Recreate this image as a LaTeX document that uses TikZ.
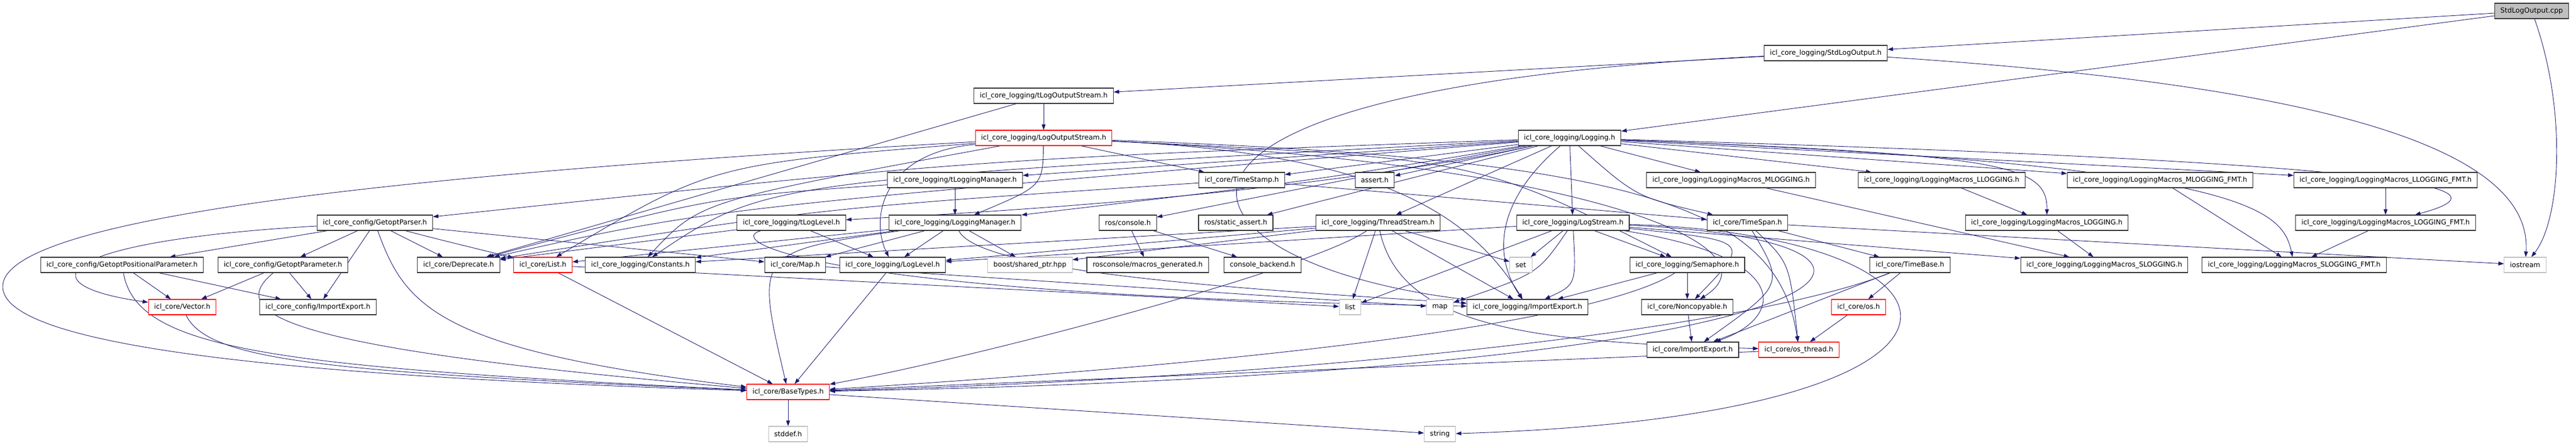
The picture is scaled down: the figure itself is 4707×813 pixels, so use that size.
\documentclass[tikz,border=0pt]{standalone}
\usepackage{fontspec}
\newfontfamily\hdrfont{DejaVu Sans}
\usetikzlibrary{arrows.meta,backgrounds}
\definecolor{edgeblue}{HTML}{191970}
\definecolor{sysgray}{HTML}{BFBFBF}
\definecolor{boxline}{HTML}{303030}
\begin{document}
\begin{tikzpicture}[x=1pt,y=-1pt,
    hdr/.style={draw=boxline, line width=1.1pt, fill=white, minimum height=28pt,
      inner xsep=10.5pt, inner ysep=0pt, font=\hdrfont\fontsize{12.6}{15}\selectfont},
    hdrred/.style={hdr, draw=red},
    hdrsys/.style={hdr, draw=sysgray},
    hdrroot/.style={hdr, fill=sysgray},
    dep/.style={draw=edgeblue, line width=0.9pt, -{Triangle[length=10pt,width=7pt]}}]
\useasboundingbox (0,0) rectangle (4707,813);
\node[hdrroot] (cpp) at (4626,20) {StdLogOutput.cpp};
\node[hdr] (stdlogh) at (3336,97) {icl\_core\_logging/StdLogOutput.h};
\node[hdr] (tlogout) at (1907,175) {icl\_core\_logging/tLogOutputStream.h};
\node[hdrred] (logout) at (1907,252) {icl\_core\_logging/LogOutputStream.h};
\node[hdr] (logging) at (2868,252) {icl\_core\_logging/Logging.h};
\node[hdr] (tlogmgr) at (1745,329) {icl\_core\_logging/tLoggingManager.h};
\node[hdr] (timestamp) at (2269,329) {icl\_core/TimeStamp.h};
\node[hdr] (assert) at (2512,329) {assert.h};
\node[hdr] (mlog) at (3163,329) {icl\_core\_logging/LoggingMacros\_MLOGGING.h};
\node[hdr] (llog) at (3548,329) {icl\_core\_logging/LoggingMacros\_LLOGGING.h};
\node[hdr] (mlogfmt) at (3947,329) {icl\_core\_logging/LoggingMacros\_MLOGGING\_FMT.h};
\node[hdr] (llogfmt) at (4359,329) {icl\_core\_logging/LoggingMacros\_LLOGGING\_FMT.h};
\node[hdr] (getopt) at (685,407) {icl\_core\_config/GetoptParser.h};
\node[hdr] (tloglevel) at (1446,407) {icl\_core\_logging/tLogLevel.h};
\node[hdr] (logmgr) at (1745,407) {icl\_core\_logging/LoggingManager.h};
\node[hdr] (console) at (2061,407) {ros/console.h};
\node[hdr] (sassert) at (2258,407) {ros/static\_assert.h};
\node[hdr] (thread) at (2518,407) {icl\_core\_logging/ThreadStream.h};
\node[hdr] (logstream) at (2874,407) {icl\_core\_logging/LogStream.h};
\node[hdr] (timespan) at (3193,407) {icl\_core/TimeSpan.h};
\node[hdr] (loggingm) at (3740,407) {icl\_core\_logging/LoggingMacros\_LOGGING.h};
\node[hdr] (loggingfmt) at (4359,407) {icl\_core\_logging/LoggingMacros\_LOGGING\_FMT.h};
\node[hdr] (posparam) at (223,484) {icl\_core\_config/GetoptPositionalParameter.h};
\node[hdr] (param) at (517,484) {icl\_core\_config/GetoptParameter.h};
\node[hdr] (deprecate) at (838,484) {icl\_core/Deprecate.h};
\node[hdrred] (list) at (992,484) {icl\_core/List.h};
\node[hdr] (constants) at (1170,484) {icl\_core\_logging/Constants.h};
\node[hdr] (map) at (1453,484) {icl\_core/Map.h};
\node[hdr] (loglevel) at (1631,484) {icl\_core\_logging/LogLevel.h};
\node[hdrsys] (shptr) at (1882,484) {boost/shared\_ptr.hpp};
\node[hdr] (macrosgen) at (2097,484) {rosconsole/macros\_generated.h};
\node[hdr] (backend) at (2307,484) {console\_backend.h};
\node[hdrsys] (set) at (2779,484) {set};
\node[hdr] (semaphore) at (3083,484) {icl\_core\_logging/Semaphore.h};
\node[hdr] (timebase) at (3490,484) {icl\_core/TimeBase.h};
\node[hdr] (slog) at (3845,484) {icl\_core\_logging/LoggingMacros\_SLOGGING.h};
\node[hdr] (slogfmt) at (4192,484) {icl\_core\_logging/LoggingMacros\_SLOGGING\_FMT.h};
\node[hdrsys] (iostream) at (4614,484) {iostream};
\node[hdrred] (vector) at (333,561) {icl\_core/Vector.h};
\node[hdr] (cfgie) at (581,561) {icl\_core\_config/ImportExport.h};
\node[hdrsys] (stdlist) at (2467,561) {list};
\node[hdrsys] (stdmap) at (2631,561) {map};
\node[hdr] (logie) at (2791,561) {icl\_core\_logging/ImportExport.h};
\node[hdr] (noncopy) at (3083,561) {icl\_core/Noncopyable.h};
\node[hdrred] (os) at (3396,561) {icl\_core/os.h};
\node[hdr] (coreie) at (3093,639) {icl\_core/ImportExport.h};
\node[hdrred] (osthread) at (3287,639) {icl\_core/os\_thread.h};
\node[hdrred] (basetypes) at (1440,716) {icl\_core/BaseTypes.h};
\node[hdrsys] (stddef) at (1440,793) {stddef.h};
\node[hdrsys] (string) at (2631,793) {string};
\begin{scope}[on background layer]
\draw[dep] (cpp) -- (stdlogh);
\draw[dep] (cpp) -- (logging);
\draw[dep] (cpp) .. controls (4690,200) and (4680,400) .. (iostream);
\draw[dep] (stdlogh) -- (tlogout);
\draw[dep] (stdlogh) .. controls (4150,150) and (4630,250) .. (iostream);
\draw[dep] (stdlogh) .. controls (1950,165) and (2130,480) .. (logie);
\draw[dep] (tlogout) -- (logout);
\draw[dep] (tlogout) -- (deprecate);
\draw[dep] (logout) .. controls (1905,340) .. (logmgr);
\draw[dep] (logout) -- (timestamp);
\draw[dep] (logout) .. controls (700,320) and (0,400) .. (5,525) .. controls (10,640) and (600,690) .. (basetypes);
\draw[dep] (logout) .. controls (1300,300) .. (list);
\draw[dep] (logout) .. controls (1280,367) .. (constants);
\draw[dep] (logout) .. controls (1610,280) and (1590,400) .. (loglevel);
\draw[dep] (logout) .. controls (2500,280) and (2680,380) .. (logie);
\draw[dep] (logout) .. controls (2700,290) .. (semaphore);
\draw[dep] (logout) .. controls (2900,300) and (3260,450) .. (noncopy);
\draw[dep] (logout) .. controls (3000,290) and (3250,380) .. (osthread);
\draw[dep] (logging) .. controls (1800,290) .. (getopt);
\draw[dep] (logging) -- (tlogmgr);
\draw[dep] (logging) .. controls (2400,330) .. (logmgr);
\draw[dep] (logging) -- (timestamp);
\draw[dep] (logging) -- (assert);
\draw[dep] (logging) .. controls (2450,330) .. (console);
\draw[dep] (logging) -- (sassert);
\draw[dep] (logging) -- (thread);
\draw[dep] (logging) -- (logstream);
\draw[dep] (logging) .. controls (2990,360) .. (timespan);
\draw[dep] (logging) -- (mlog);
\draw[dep] (logging) -- (llog);
\draw[dep] (logging) -- (mlogfmt);
\draw[dep] (logging) -- (llogfmt);
\draw[dep] (logging) .. controls (3659,283) and (3741,300) .. (loggingm);
\draw[dep] (logging) .. controls (4535,300) and (4570,350) .. (loggingfmt);
\draw[dep] (logging) .. controls (4100,300) and (4170,380) .. (slogfmt);
\draw[dep] (logging) .. controls (2355,362) and (1700,393) .. (tloglevel);
\draw[dep] (logging) .. controls (1300,380) .. (deprecate);
\draw[dep] (logging) .. controls (1400,330) .. (constants);
\draw[dep] (logging) .. controls (2730,370) and (2730,470) .. (logie);
\draw[dep] (tlogmgr) -- (logmgr);
\draw[dep] (tlogmgr) .. controls (1300,360) .. (deprecate);
\draw[dep] (timestamp) -- (timespan);
\draw[dep] (timestamp) .. controls (1500,380) .. (deprecate);
\draw[dep] (tloglevel) -- (loglevel);
\draw[dep] (tloglevel) -- (deprecate);
\draw[dep] (tloglevel) .. controls (1320,440) and (1500,540) .. (logie);
\draw[dep] (logmgr) -- (loglevel);
\draw[dep] (logmgr) -- (shptr);
\draw[dep] (logmgr) .. controls (1380,460) .. (basetypes);
\draw[dep] (logmgr) -- (map);
\draw[dep] (logmgr) -- (list);
\draw[dep] (logmgr) -- (constants);
\draw[dep] (logmgr) .. controls (1790,500) and (2300,530) .. (logie);
\draw[dep] (console) -- (macrosgen);
\draw[dep] (console) -- (backend);
\draw[dep] (thread) .. controls (2400,490) and (1800,650) .. (basetypes);
\draw[dep] (thread) -- (stdlist);
\draw[dep] (thread) .. controls (2560,600) and (2800,625) .. (osthread);
\draw[dep] (thread) -- (logie);
\draw[dep] (thread) -- (set);
\draw[dep] (thread) -- (loglevel);
\draw[dep] (thread) -- (constants);
\draw[dep] (thread) -- (shptr);
\draw[dep] (logstream) -- (set);
\draw[dep] (logstream) -- (stdlist);
\draw[dep] (logstream) .. controls (2810,500) .. (stdmap);
\draw[dep] (logstream) .. controls (2880,520) .. (logie);
\draw[dep] (logstream) -- (semaphore);
\draw[dep] (logstream) -- (loglevel);
\draw[dep] (logstream) .. controls (3200,440) .. (noncopy);
\draw[dep] (logstream) .. controls (3280,470) and (3260,580) .. (coreie);
\draw[dep] (logstream) .. controls (3650,430) and (3720,760) .. (string);
\draw[dep] (logstream) .. controls (3620,440) and (3450,680) .. (basetypes);
\draw[dep] (logstream) -- (slog);
\draw[dep] (timespan) -- (iostream);
\draw[dep] (timespan) -- (timebase);
\draw[dep] (timespan) .. controls (3270,480) .. (osthread);
\draw[dep] (timespan) .. controls (3260,520) .. (coreie);
\draw[dep] (semaphore) -- (noncopy);
\draw[dep] (semaphore) -- (logie);
\draw[dep] (semaphore) .. controls (2950,570) and (2500,650) .. (basetypes);
\draw[dep] (noncopy) -- (coreie);
\draw[dep] (timebase) -- (os);
\draw[dep] (timebase) -- (coreie);
\draw[dep] (timebase) .. controls (3200,600) and (2400,690) .. (basetypes);
\draw[dep] (os) -- (osthread);
\draw[dep] (osthread) -- (basetypes);
\draw[dep] (llog) -- (loggingm);
\draw[dep] (mlog) -- (slog);
\draw[dep] (loggingm) -- (slog);
\draw[dep] (mlogfmt) -- (slogfmt);
\draw[dep] (llogfmt) -- (loggingfmt);
\draw[dep] (loggingfmt) -- (slogfmt);
\draw[dep] (getopt) -- (posparam);
\draw[dep] (getopt) -- (param);
\draw[dep] (getopt) -- (cfgie);
\draw[dep] (getopt) .. controls (100,440) and (40,520) .. (vector);
\draw[dep] (getopt) .. controls (740,560) and (800,640) .. (basetypes);
\draw[dep] (getopt) -- (deprecate);
\draw[dep] (getopt) .. controls (800,437) .. (list);
\draw[dep] (getopt) -- (map);
\draw[dep] (posparam) -- (vector);
\draw[dep] (posparam) -- (cfgie);
\draw[dep] (posparam) .. controls (250,640) and (500,670) .. (basetypes);
\draw[dep] (param) -- (vector);
\draw[dep] (param) -- (cfgie);
\draw[dep] (param) .. controls (400,580) and (560,640) .. (basetypes);
\draw[dep] (vector) .. controls (380,660) and (600,680) .. (basetypes);
\draw[dep] (list) -- (basetypes);
\draw[dep] (list) -- (stdlist);
\draw[dep] (map) -- (stdmap);
\draw[dep] (loglevel) -- (basetypes);
\draw[dep] (basetypes) -- (stddef);
\draw[dep] (basetypes) -- (string);
\end{scope}
\end{tikzpicture}
\end{document}
